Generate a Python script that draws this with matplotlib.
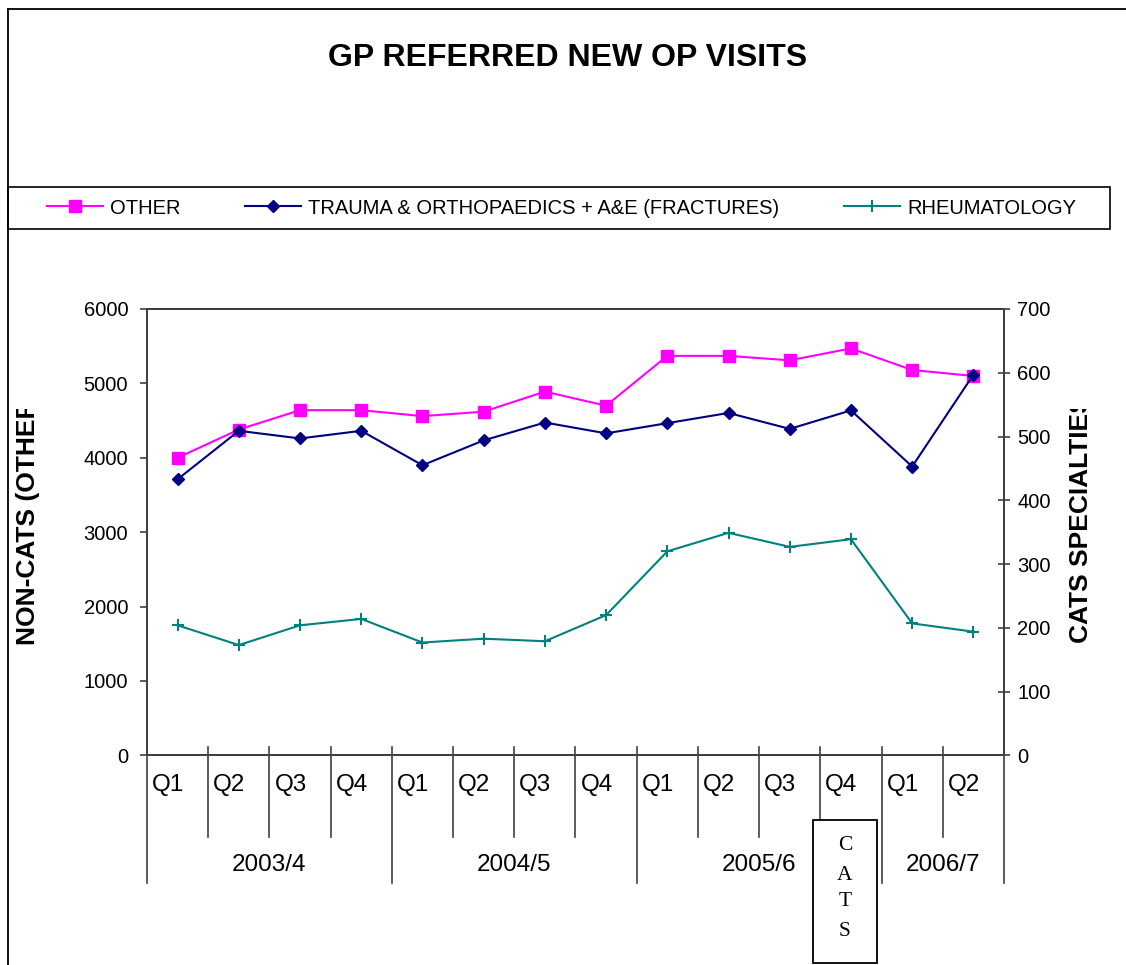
import matplotlib
matplotlib.use("Agg")
import matplotlib.pyplot as plt
import matplotlib.transforms as mtransforms
from matplotlib.patches import Rectangle
from matplotlib.lines import Line2D

# ---------------- data ----------------
quarters = ["Q1", "Q2", "Q3", "Q4", "Q1", "Q2", "Q3", "Q4",
            "Q1", "Q2", "Q3", "Q4", "Q1", "Q2"]
years = ["2003/4", "2004/5", "2005/6", "2006/7"]
year_quarters = [4, 4, 4, 2]
other = [4000, 4380, 4640, 4640, 4560, 4620, 4890, 4700,
         5370, 5370, 5310, 5470, 5180, 5100]
trauma = [433, 509, 497, 509, 455, 494, 522, 505,
          521, 537, 512, 541, 453, 597]
rheum = [204, 173, 204, 214, 177, 183, 179, 220,
         320, 349, 327, 339, 207, 194]
left_ticks = [0, 1000, 2000, 3000, 4000, 5000, 6000]
right_ticks = [0, 100, 200, 300, 400, 500, 600, 700]

# ---------------- figure ----------------
W, H = 1126, 965
plt.rcParams['font.family'] = ['Liberation Sans', 'DejaVu Sans']
fig = plt.figure(figsize=(W / 100, H / 100), dpi=100)


def fx(x):
    return x / W


def fy(y):
    return 1 - y / H


AX_L, AX_R, AX_T, AX_B = 147, 1004, 309, 755.4
ax = fig.add_axes([fx(AX_L), fy(AX_B), fx(AX_R) - fx(AX_L), fy(AX_T) - fy(AX_B)])
ax2 = ax.twinx()

xs = list(range(len(quarters)))
l1, = ax.plot(xs, other, color='#FF00FF', marker='s', ms=9, mec='#FF00FF',
              lw=1.5, label='OTHER', clip_on=False)
l2, = ax2.plot(xs, trauma, color='#000080', marker='D', ms=6.5, mec='#000080',
               lw=1.5, label='TRAUMA & ORTHOPAEDICS + A&E (FRACTURES)', clip_on=False)
l3, = ax2.plot(xs, rheum, color='#008080', marker='+', ms=9, mew=1.5,
               lw=1.5, label='RHEUMATOLOGY', clip_on=False)

ax.set_xlim(-0.5, len(quarters) - 0.5)
ax.set_ylim(0, 6000)
ax2.set_ylim(0, 700)
ax.set_yticks(left_ticks)
ax2.set_yticks(right_ticks)
ax.set_xticks([])
ax2.set_xticks([])

spine_c = '#404040'
for a in (ax, ax2):
    for s in a.spines.values():
        s.set_color(spine_c)
        s.set_linewidth(1.4)
ax.tick_params(axis='y', direction='out', length=5, width=1.2, color=spine_c,
               labelsize=14.5, pad=8.5)
ax2.tick_params(axis='y', direction='inout', length=9, width=1.2, color=spine_c,
                labelsize=14.5, pad=5)

# ---------------- category axis (two levels) ----------------
trans = mtransforms.blended_transform_factory(ax.transData, fig.transFigure)
year_bounds = [-0.5]
acc = -0.5
for n in year_quarters:
    acc += n
    year_bounds.append(acc)
for i in range(len(quarters) + 1):
    b = i - 0.5
    y_end = 883 if b in year_bounds else 837
    ax.add_artist(Line2D([b, b], [fy(747), fy(y_end)], transform=trans,
                         clip_on=False, color=spine_c, lw=1.2))

offs = trans + mtransforms.ScaledTranslation(5 / 100, 0, fig.dpi_scale_trans)
for i, q in enumerate(quarters):
    ax.text(i - 0.5, fy(785), q, transform=offs, ha='left', va='center',
            fontsize=17.5, clip_on=False)
start = 0
for yr, n in zip(years, year_quarters):
    ax.text(start + (n - 1) / 2, fy(865), yr, transform=trans, ha='center',
            va='center', fontsize=17.5, clip_on=False)
    start += n

# CATS box
fig.add_artist(Rectangle((fx(813), fy(963)), fx(877) - fx(813), fy(820) - fy(963),
                         transform=fig.transFigure, fc='white', ec='black',
                         lw=1.3, zorder=5))
for ch, yy in zip("CATS", [846, 875, 902, 932]):
    fig.text(fx(845), fy(yy), ch, ha='center', va='center', fontsize=15.5,
             family='Liberation Serif', zorder=6)

# ---------------- title, frame, legend ----------------
fig.text(fx(567.5), fy(58), "GP REFERRED NEW OP VISITS", ha='center', va='center',
         fontsize=23, fontweight='bold')

fig.add_artist(Line2D([fx(8), fx(8)], [fy(9), 0], transform=fig.transFigure,
                      color='black', lw=1.3))
fig.add_artist(Line2D([fx(8), 1], [fy(9), fy(9)], transform=fig.transFigure,
                      color='black', lw=1.3))
fig.add_artist(Rectangle((fx(8), fy(229)), fx(1110) - fx(8), fy(187) - fy(229),
                         transform=fig.transFigure, fc='none', ec='black', lw=1.2))

fig.legend(handles=[l1, l2, l3], loc='center', bbox_to_anchor=(fx(561.5), fy(208)),
           ncol=3, frameon=False, fontsize=14.5, handlelength=2.8,
           handletextpad=0.35, columnspacing=3.2, borderpad=0, borderaxespad=0)

# ---------------- axis titles (cut off at the top as in the original) ----------------
fig.text(fx(28), fy(645), "NON-CATS (OTHER)", rotation=90, ha='center',
         va='bottom', fontsize=19, fontweight='bold', zorder=3)
fig.text(fx(1081), fy(643), "CATS SPECIALTIES", rotation=90, ha='center',
         va='bottom', fontsize=19, fontweight='bold', zorder=3)
# masks that hide the part of the axis titles beyond their box
fig.add_artist(Rectangle((fx(12), fy(409)), fx(60) - fx(12), fy(290) - fy(409),
                         transform=fig.transFigure, fc='white', ec='none', zorder=4))
fig.add_artist(Rectangle((fx(1062), fy(409)), fx(1106) - fx(1062), fy(290) - fy(409),
                         transform=fig.transFigure, fc='white', ec='none', zorder=4))

fig.savefig('out.png', dpi=100)
